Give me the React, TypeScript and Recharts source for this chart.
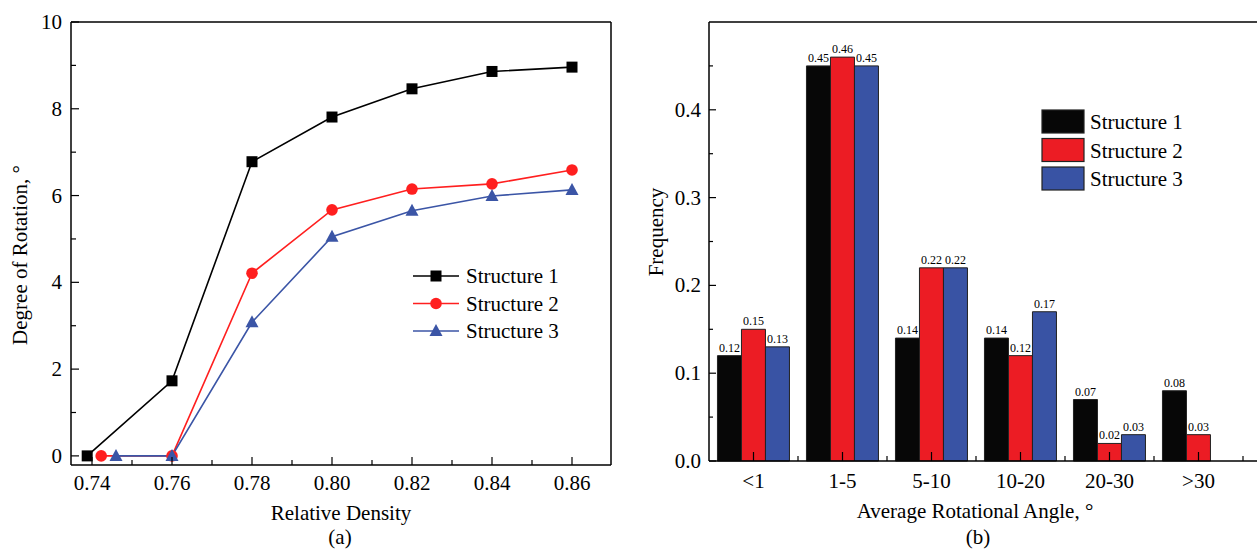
import React from "react";
import { Bar, BarChart, LabelList, Line, LineChart, ReferenceLine, XAxis, YAxis } from "recharts";

const FONT = "Liberation Serif, DejaVu Serif, serif";

// (a) degree of rotation vs relative density
const structure1Points = [
  { x: 0.7388, y: 0 },
  { x: 0.76, y: 1.73 },
  { x: 0.78, y: 6.78 },
  { x: 0.8, y: 7.81 },
  { x: 0.82, y: 8.46 },
  { x: 0.84, y: 8.86 },
  { x: 0.86, y: 8.96 },
];
const structure2Points = [
  { x: 0.7423, y: 0 },
  { x: 0.76, y: 0 },
  { x: 0.78, y: 4.21 },
  { x: 0.8, y: 5.67 },
  { x: 0.82, y: 6.15 },
  { x: 0.84, y: 6.27 },
  { x: 0.86, y: 6.59 },
];
const structure3Points = [
  { x: 0.746, y: 0 },
  { x: 0.76, y: 0 },
  { x: 0.78, y: 3.08 },
  { x: 0.8, y: 5.05 },
  { x: 0.82, y: 5.65 },
  { x: 0.84, y: 5.99 },
  { x: 0.86, y: 6.13 },
];
const densityTicks = [0.74, 0.75, 0.76, 0.77, 0.78, 0.79, 0.8, 0.81, 0.82, 0.83, 0.84, 0.85, 0.86];
const rotationTicks = [0, 1, 2, 3, 4, 5, 6, 7, 8, 9, 10];

// (b) frequency of average rotational angle
const angleBins = ["<1", "1-5", "5-10", "10-20", "20-30", ">30"];
const freqStructure1 = [0.12, 0.45, 0.14, 0.14, 0.07, 0.08];
const freqStructure2 = [0.15, 0.46, 0.22, 0.12, 0.02, 0.03];
const freqStructure3 = [0.13, 0.45, 0.22, 0.17, 0.03, null];
const freqTicks = [0, 0.05, 0.1, 0.15, 0.2, 0.25, 0.3, 0.35, 0.4, 0.45];

const seriesNames = ["Structure 1", "Structure 2", "Structure 3"];
const lineColors = ["#000000", "#ff1f1f", "#3b55a6"];
const barColors = ["#070707", "#ec1c24", "#3953a4"];

const barRows = angleBins.map((bin, i) => ({
  bin,
  s1: freqStructure1[i],
  s2: freqStructure2[i],
  s3: freqStructure3[i],
}));

const BAND = 89;

function Marker({ kind, cx, cy, color }: { kind: number; cx: number; cy: number; color: string }) {
  if (kind === 0) return <rect x={cx - 5.5} y={cy - 5.5} width={11} height={11} fill={color} />;
  if (kind === 1) return <circle cx={cx} cy={cy} r={5.8} fill={color} />;
  return <path d={`M${cx},${cy - 7} L${cx + 6.5},${cy + 5} L${cx - 6.5},${cy + 5} Z`} fill={color} />;
}

const dotFor = (kind: number) => (p: any) => (
  <Marker key={`d${kind}-${p.index}`} kind={kind} cx={p.cx} cy={p.cy} color={lineColors[kind]} />
);

function DensityTick({ x, y, payload }: any) {
  const v = payload.value as number;
  const major = Math.round(v * 100) % 2 === 0;
  return (
    <g>
      <line x1={x} x2={x} y1={y} y2={y - (major ? 8 : 5)} stroke="#000" strokeWidth={1.2} />
      {major && (
        <text x={x} y={y + 25} textAnchor="middle" fontSize={21} fontFamily={FONT} fill="#000">
          {v.toFixed(2)}
        </text>
      )}
    </g>
  );
}

function RotationTick({ x, y, payload }: any) {
  const v = payload.value as number;
  const major = v % 2 === 0;
  return (
    <g>
      <line x1={x} x2={x + (major ? 8 : 5)} y1={y} y2={y} stroke="#000" strokeWidth={1.2} />
      {major && (
        <text x={x - 9} y={y + 7} textAnchor="end" fontSize={21} fontFamily={FONT} fill="#000">
          {v}
        </text>
      )}
    </g>
  );
}

function FreqTick({ x, y, payload }: any) {
  const v = payload.value as number;
  const major = Math.round(v * 100) % 10 === 0;
  return (
    <g>
      <line x1={x} x2={x + (major ? 7 : 4)} y1={y} y2={y} stroke="#000" strokeWidth={1.2} />
      {major && (
        <text x={x - 8} y={y + 7} textAnchor="end" fontSize={21} fontFamily={FONT} fill="#000">
          {v.toFixed(1)}
        </text>
      )}
    </g>
  );
}

function BinTick({ x, y, payload }: any) {
  return (
    <g>
      <line x1={x} x2={x} y1={y} y2={y - 9} stroke="#000" strokeWidth={1.2} />
      <line x1={x + BAND / 2} x2={x + BAND / 2} y1={y} y2={y - 5} stroke="#000" strokeWidth={1.2} />
      <text x={x} y={y + 27} textAnchor="middle" fontSize={21} fontFamily={FONT} fill="#000">
        {payload.value}
      </text>
    </g>
  );
}

const txt: React.CSSProperties = {
  position: "absolute",
  fontFamily: FONT,
  fontSize: 21,
  color: "#000",
  whiteSpace: "nowrap",
  lineHeight: 1,
};

function Title({ x, y, rotate, children }: { x: number; y: number; rotate?: boolean; children: React.ReactNode }) {
  return (
    <div style={{ ...txt, left: x, top: y, transform: `translate(-50%, -50%)${rotate ? " rotate(-90deg)" : ""}` }}>
      {children}
    </div>
  );
}

export default function App() {
  const labelFmt = (v: any) => (v == null ? "" : Number(v).toFixed(2));
  const labelStyle = { fontSize: 12, fontFamily: FONT, fill: "#000" };
  return (
    <div style={{ position: "absolute", left: 0, top: 0, width: 1257, height: 550, background: "#fff", overflow: "hidden", fontFamily: FONT }}>
      <div style={{ position: "absolute", left: 0, top: 0 }}>
        <LineChart width={620} height={550} margin={{ top: 22, right: 9, bottom: 0, left: 0 }}>
          <XAxis
            dataKey="x"
            type="number"
            domain={[0.73475, 0.86975]}
            allowDataOverflow
            ticks={densityTicks}
            tick={<DensityTick />}
            tickSize={0}
            tickMargin={0}
            height={85}
            axisLine={{ stroke: "#000", strokeWidth: 1.5 }}
          />
          <YAxis
            type="number"
            domain={[-0.21, 10]}
            allowDataOverflow
            ticks={rotationTicks}
            tick={<RotationTick />}
            tickSize={0}
            tickMargin={0}
            width={71}
            axisLine={{ stroke: "#000", strokeWidth: 1.5 }}
          />
          <ReferenceLine y={10} stroke="#000" strokeWidth={1.5} />
          <ReferenceLine x={0.86975} stroke="#000" strokeWidth={1.5} />
          {[structure1Points, structure2Points, structure3Points].map((pts, i) => (
            <Line
              key={seriesNames[i]}
              data={pts}
              dataKey="y"
              name={seriesNames[i]}
              stroke={lineColors[i]}
              strokeWidth={1.6}
              dot={dotFor(i)}
              isAnimationActive={false}
            />
          ))}
        </LineChart>
      </div>

      <svg style={{ position: "absolute", left: 405, top: 262 }} width={60} height={84}>
        {seriesNames.map((n, i) => (
          <g key={n}>
            <line x1={8} x2={54} y1={14 + i * 27.5} y2={14 + i * 27.5} stroke={lineColors[i]} strokeWidth={1.6} />
            <Marker kind={i} cx={31} cy={14 + i * 27.5} color={lineColors[i]} />
          </g>
        ))}
      </svg>
      {seriesNames.map((n, i) => (
        <div key={n} style={{ ...txt, left: 466, top: 276 + i * 27.5, transform: "translateY(-50%)" }}>
          {n}
        </div>
      ))}

      <Title x={20} y={255} rotate>
        Degree of Rotation, °
      </Title>
      <Title x={341} y={513}>Relative Density</Title>
      <Title x={340} y={537}>(a)</Title>

      <div style={{ position: "absolute", left: 620, top: 0 }}>
        <BarChart
          width={637}
          height={550}
          data={barRows}
          margin={{ top: 22, right: 0, bottom: 0, left: 0 }}
          barCategoryGap="9.5%"
          barGap={0}
        >
          <XAxis
            dataKey="bin"
            padding={{ left: 0, right: 14 }}
            tick={<BinTick />}
            tickSize={0}
            tickMargin={0}
            height={89}
            interval={0}
            axisLine={{ stroke: "#000", strokeWidth: 1.5 }}
          />
          <YAxis
            type="number"
            domain={[0, 0.5]}
            ticks={freqTicks}
            tick={<FreqTick />}
            tickSize={0}
            tickMargin={0}
            width={89}
            axisLine={{ stroke: "#000", strokeWidth: 1.5 }}
          />
          <ReferenceLine y={0.5} stroke="#000" strokeWidth={1.5} />
          {(["s1", "s2", "s3"] as const).map((k, i) => (
            <Bar key={k} dataKey={k} name={seriesNames[i]} fill={barColors[i]} stroke="#222" strokeWidth={1} isAnimationActive={false}>
              <LabelList dataKey={k} position="top" offset={4} formatter={labelFmt} style={labelStyle} />
            </Bar>
          ))}
        </BarChart>
      </div>

      <svg style={{ position: "absolute", left: 1040, top: 108 }} width={48} height={86}>
        {seriesNames.map((n, i) => (
          <rect key={n} x={2} y={2 + i * 28.5} width={42} height={23} fill={barColors[i]} stroke="#222" strokeWidth={1.2} />
        ))}
      </svg>
      {seriesNames.map((n, i) => (
        <div key={n} style={{ ...txt, left: 1090, top: 122 + i * 28.5, transform: "translateY(-50%)" }}>
          {n}
        </div>
      ))}

      <Title x={656} y={232} rotate>
        Frequency
      </Title>
      <Title x={975} y={511}>Average Rotational Angle, °</Title>
      <Title x={978} y={537}>(b)</Title>
    </div>
  );
}
